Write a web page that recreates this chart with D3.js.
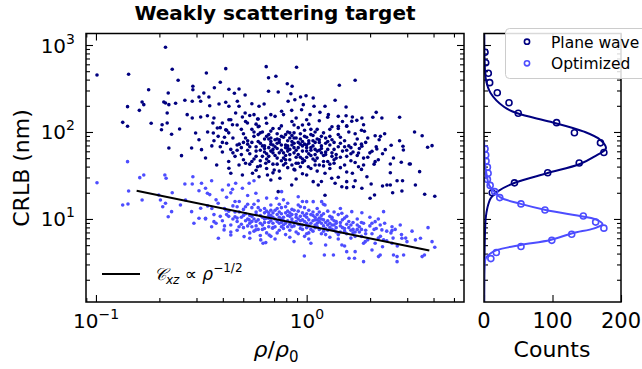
<!DOCTYPE html>
<html><head><meta charset="utf-8">
<script src="https://cdn.jsdelivr.net/npm/d3@7"></script>
<style>
body{margin:0;background:#fff}
svg{display:block}
text{font-family:"DejaVu Sans",sans-serif;fill:#000}
</style>
</head><body>
<svg id="chart" width="642" height="369"></svg>
<script>
// ---------------- DATA ----------------
// scatter points stored as [log10(rho/rho0), log10(CRLB in nm)]
const planeWaveLog = [
[-0.995,2.655],[-0.845,2.663],[-0.670,2.974],[-0.638,2.721],[-0.384,2.728],[-0.192,2.751],[-0.181,2.624],[-0.610,2.594],[-0.476,2.678],[-0.410,2.571],
[-0.540,2.525],[-0.540,2.486],[-0.438,2.509],[-0.369,2.491],[-0.343,2.445],[-0.321,2.494],[-0.292,2.425],[-0.181,2.468],[-0.750,2.486],[-0.657,2.448],
[-0.781,2.345],[-0.773,2.314],[-0.850,2.291],[-0.794,2.249],[-0.678,2.345],[-0.670,2.333],[-0.654,2.314],[-0.622,2.330],[-0.578,2.364],[-0.543,2.353],
[-0.511,2.402],[-0.503,2.353],[-0.488,2.448],[-0.464,2.402],[-0.460,2.302],[-0.416,2.322],[-0.384,2.341],[-0.369,2.295],[-0.329,2.353],[-0.321,2.295],
[-0.260,2.325],[-0.226,2.295],[-0.202,2.322],[-0.662,2.218],[-0.567,2.199],[-0.543,2.161],[-0.503,2.172],[-0.471,2.187],[-0.873,2.111],[-0.850,2.066],
[-0.738,2.100],[-0.686,2.084],[-0.689,2.026],[-0.662,2.103],[-0.603,2.034],[-0.641,1.974],[-0.654,1.816],[-0.594,1.728],[-0.546,1.816],[-0.527,1.989],
[-0.511,1.911],[-0.499,1.797],[-0.480,1.701],[-0.445,2.103],[-0.443,1.989],[-0.424,2.046],[-0.400,2.103],[-0.384,2.026],[-0.369,2.141],[-0.352,2.084],
[-0.337,2.218],[-0.305,2.172],[-0.292,2.218],[-0.281,2.103],[-0.250,2.199],[-0.233,2.149],[-0.226,2.066],[-0.194,2.161],[-0.170,2.199],
[-0.048,2.744],[0.230,2.594],[0.155,2.537],[-0.146,2.640],[-0.092,2.555],[-0.069,2.525],[-0.135,2.460],[-0.075,2.440],[-0.029,2.402],[-0.003,2.417],
[0.031,2.391],[0.135,2.364],[-0.088,2.353],[-0.056,2.371],[-0.016,2.314],[0.035,2.295],[0.087,2.295],[0.187,2.287],[-0.119,2.238],[-0.071,2.249],
[-0.024,2.256],[0.016,2.199],[0.063,2.226],[0.103,2.199],[0.150,2.180],[0.187,2.187],[0.217,2.172],[0.262,2.161],[0.314,2.169],[0.330,2.226],
[0.357,2.161],[0.441,2.169],[0.214,2.123],[0.238,2.134],[0.270,2.084],[0.150,2.066],[0.190,2.066],[0.274,2.008],[0.325,1.957],[0.370,1.980],
[0.344,1.911],[0.512,2.000],[0.548,1.957],[0.441,1.900],[0.401,1.847],[0.457,1.836],[0.459,1.793],[0.595,1.843],[0.574,1.824],[0.373,1.797],
[0.333,1.805],[0.412,1.701],[0.492,1.632],[0.449,1.652],[0.397,1.632],[0.310,1.778],[0.262,1.836],[0.246,1.759],
[0.325,1.659],[0.397,1.532],[0.360,1.379],[0.381,1.391],[0.397,1.391],[0.429,1.440],[0.455,1.440],[0.516,1.391],[0.560,1.284],[0.608,1.261],
[0.536,1.544],[0.487,1.632],[0.301,1.238],[0.322,1.276],[0.408,1.302],[0.452,1.322],[0.087,1.272],[0.167,1.371],[0.190,1.360],[0.222,1.371],
[0.262,1.353],[0.306,1.402],[0.286,1.486],[0.217,1.525],[0.246,1.601],[0.190,1.429],[0.135,1.410],[0.055,1.391],[0.031,1.429],[-0.071,1.391],
[-0.127,1.468],[-0.135,1.314],[0.000,1.506],[0.087,1.525],[0.119,1.468],[-0.056,1.563],[0.008,1.601],
[-0.427,1.621],[-0.369,1.583],[-0.360,1.525],[-0.321,1.621],[-0.305,1.506],[-0.257,1.525],[-0.233,1.601],[-0.226,1.486],[-0.194,1.640],[-0.186,1.506],[-0.170,1.448],[-0.154,1.563],
[-0.42,1.95],[-0.40,1.88],[-0.38,2.02],[-0.36,1.80],[-0.35,1.93],[-0.33,2.08],[-0.32,1.86],[-0.31,1.74],[-0.30,1.98],[-0.29,2.12],
[-0.28,1.90],[-0.27,1.83],[-0.26,2.03],[-0.25,1.69],[-0.25,1.95],[-0.24,1.78],[-0.23,2.06],[-0.22,1.87],[-0.22,1.99],[-0.21,1.72],
[-0.20,1.92],[-0.20,1.81],[-0.19,2.10],[-0.18,1.66],[-0.18,1.97],[-0.17,1.86],[-0.16,1.76],[-0.16,2.04],[-0.15,1.91],[-0.15,1.83],
[-0.14,1.70],[-0.14,1.98],[-0.13,1.88],[-0.12,1.79],[-0.12,2.07],[-0.11,1.94],[-0.11,1.62],[-0.10,1.85],[-0.10,1.73],[-0.09,2.00],
[-0.09,1.90],[-0.08,1.80],[-0.08,1.68],[-0.07,1.96],[-0.07,2.12],[-0.06,1.87],[-0.06,1.76],[-0.05,1.93],[-0.05,1.64],[-0.04,2.05],
[-0.04,1.82],[-0.03,1.71],[-0.03,1.98],[-0.02,1.89],[-0.02,1.78],[-0.01,2.02],[-0.01,1.67],[0.00,1.85],[0.00,1.94],[0.01,1.75],
[0.01,2.09],[0.02,1.82],[0.03,1.96],[0.03,1.69],[0.04,1.88],[0.05,1.78],[0.05,2.03],[0.06,1.62],[0.06,1.91],[0.07,1.84],
[0.08,1.73],[0.08,1.99],[0.09,1.87],[0.10,1.66],[0.10,1.80],[0.11,1.95],[0.12,1.76],[0.12,2.06],[0.13,1.88],[0.14,1.70],
[0.15,1.83],[0.15,1.97],[0.16,1.59],[0.17,1.78],[0.18,1.90],[0.19,1.72],[0.20,1.84],[0.20,2.00],[0.22,1.77],[0.23,1.65],
[0.24,1.92],[0.25,1.81],[0.27,1.70],[0.28,1.88],[0.30,1.76],[0.32,1.63],[-0.34,1.72],[-0.37,1.99],[-0.41,1.83],[-0.44,1.90],
[-0.27,1.63],[-0.19,1.58],[-0.13,1.55],[-0.06,1.57],[0.02,1.58],[-0.23,2.15],[-0.15,2.18],[-0.05,2.16],[0.06,2.13],[-0.30,1.68],
[-0.17,1.93],[-0.08,1.93],[-0.12,1.85],[-0.02,1.84],[0.04,1.80],[-0.19,1.75],[-0.26,1.88],[-0.10,1.97],[0.09,1.93],[-0.04,1.74],
[-0.21,2.00],[-0.14,1.63],[0.13,1.68],[0.18,1.62],[-0.33,1.85],[-0.06,2.08],[0.01,1.90],[-0.16,1.80],[0.07,1.76],[-0.24,1.83],
[-0.36,2.14],[-0.27,2.19],[-0.11,2.20],[0.00,2.14],[0.10,2.17],[0.17,2.12],[-0.44,2.16],
[-0.41,2.05],[-0.31,2.03],[-0.24,2.09],[-0.17,2.01],[-0.13,2.04],[-0.02,2.08],[0.04,2.00],[0.11,2.03],[0.19,2.07],[0.26,2.02],[-0.47,2.00],
[-0.39,1.94],[-0.29,1.93],[-0.23,1.97],[-0.18,1.92],[-0.12,1.95],[-0.06,1.99],[-0.03,1.92],[0.02,1.97],[0.07,1.95],[0.12,1.91],[0.16,1.94],[0.23,1.98],[0.29,1.93],[0.35,1.95],
[-0.45,1.84],[-0.38,1.87],[-0.31,1.82],[-0.28,1.86],[-0.23,1.89],[-0.20,1.84],[-0.14,1.87],[-0.10,1.82],[-0.07,1.89],[-0.01,1.86],[0.03,1.84],[0.06,1.88],[0.11,1.85],[0.16,1.87],[0.21,1.82],[0.26,1.86],[0.33,1.83],
[-0.40,1.77],[-0.33,1.79],[-0.27,1.75],[-0.22,1.79],[-0.18,1.72],[-0.13,1.76],[-0.09,1.78],[-0.05,1.71],[0.00,1.78],[0.04,1.74],[0.09,1.77],[0.14,1.74],[0.19,1.79],[0.24,1.73],[0.29,1.71],[0.36,1.75],
[-0.37,1.66],[-0.29,1.64],[-0.22,1.67],[-0.16,1.63],[-0.10,1.68],[-0.07,1.62],[-0.02,1.65],[0.04,1.67],[0.08,1.61],[0.13,1.64],[0.21,1.67],[0.27,1.62],[0.34,1.68],
[-0.24,1.56],[-0.16,1.53],[-0.09,1.59],[-0.02,1.52],[0.05,1.55],[0.11,1.58],[0.19,1.54],[0.26,1.57],
[-0.05,1.46],[0.07,1.43],[0.15,1.48],[0.23,1.44],
[-0.17,1.89],[-0.09,1.84],[-0.04,1.88],[0.02,1.79],[-0.11,1.76],[-0.19,1.95],[0.05,1.92],[-0.14,1.81],[-0.06,1.82],[0.00,1.71],
[-0.21,1.84],[-0.19,1.69],[-0.17,1.78],[-0.15,1.73],[-0.13,1.91],[-0.11,1.70],[-0.09,1.81],[-0.08,1.74],[-0.06,1.93],[-0.05,1.79],
[-0.03,1.86],[-0.02,1.69],[0.00,1.82],[0.02,1.73],[0.03,1.90],[0.05,1.70],[0.07,1.81],[0.08,1.66],[0.10,1.89],[0.12,1.72],
[-0.20,1.77],[-0.16,1.85],[-0.12,1.67],[-0.07,1.85],[-0.04,1.64],[0.01,1.87],[0.04,1.62],[0.09,1.74],[0.13,1.80],[-0.24,1.72],
[-0.28,1.79],[-0.26,1.66],[-0.22,1.61],[0.16,1.71],[0.18,1.83],[0.21,1.75],[-0.14,1.92],[-0.01,1.95],[-0.18,1.82],[0.06,1.79],
[-0.10,1.64],[-0.03,1.60],[0.11,1.63],[-0.30,1.88],[-0.35,1.76],[0.23,1.86],[-0.08,1.99],[0.02,2.03],[-0.25,2.00],[0.15,2.04]
];
const optimizedLog = [
[-0.995,1.417],[-0.850,1.659],[-0.792,1.475],[-0.773,1.506],[-0.845,1.322],[-0.873,1.161],[-0.848,1.172],[-0.781,1.218],[-0.673,1.506],[-0.667,1.468],
[-0.702,1.276],[-0.694,1.218],[-0.670,1.180],[-0.683,1.141],[-0.657,1.026],[-0.641,1.084],[-0.638,1.302],[-0.578,1.402],[-0.543,1.402],[-0.540,1.486],
[-0.511,1.325],[-0.499,1.410],[-0.480,1.353],[-0.471,1.295],[-0.451,1.440],[-0.400,1.333],[-0.371,1.391],[-0.352,1.341],[-0.337,1.410],[-0.305,1.353],
[-0.273,1.410],[-0.241,1.295],[-0.250,1.440],[-0.599,1.161],[-0.575,1.218],[-0.546,1.084],[-0.535,0.951],[-0.511,1.008],[-0.503,1.123],[-0.480,1.008],
[-0.451,0.911],[-0.440,0.969],[-0.419,0.778],[-0.392,0.874],[-0.384,1.103],[-0.360,0.816],[-0.340,1.026],[-0.321,0.911],[-0.297,0.797],[-0.273,0.989],
[-0.241,0.874],[-0.218,0.759],[-0.194,0.728],[-0.178,0.816],[-0.162,0.893],
[-0.119,1.314],[-0.143,1.238],[-0.040,1.256],[0.000,1.199],[0.031,1.199],[0.071,1.199],[0.087,1.161],[0.167,1.066],[0.214,1.084],[0.262,1.072],
[0.365,1.084],[0.310,0.951],[0.325,0.969],[0.349,0.931],[0.357,0.874],[0.405,0.911],[0.405,0.866],[0.444,0.931],[0.452,0.778],[0.476,0.739],
[0.516,0.759],[0.540,0.778],[0.576,0.900],[0.595,0.739],[0.608,0.675],[0.548,0.567],[0.559,0.586],[0.460,0.586],[0.429,0.567],[0.429,0.509],
[0.412,0.586],[0.349,0.586],[0.341,0.567],[0.310,0.644],[0.270,0.509],[0.227,0.548],[0.201,0.548],[0.190,0.624],[0.230,0.624],[0.127,0.586],
[0.084,0.586],[-0.011,0.575],[0.167,0.701],[0.278,0.739],[0.325,0.721],[0.365,0.759],[0.405,0.721],[-0.207,0.721],[-0.270,0.778],
[0.35,0.80],[0.37,0.95],[0.40,0.84],[0.38,0.75],[0.42,0.88],[0.34,1.00],[0.45,0.82],[0.30,1.02],[0.27,0.72],[0.36,0.68],
[-0.44,1.05],[-0.42,1.18],[-0.40,0.98],[-0.39,1.12],[-0.38,1.25],[-0.37,1.03],[-0.36,0.93],[-0.35,1.15],[-0.34,1.08],[-0.33,0.97],
[-0.32,1.20],[-0.31,1.02],[-0.30,1.11],[-0.30,0.90],[-0.29,1.06],[-0.28,1.17],[-0.27,0.95],[-0.26,1.03],[-0.26,1.13],[-0.25,0.86],
[-0.24,1.08],[-0.23,0.99],[-0.23,1.21],[-0.22,1.04],[-0.21,0.93],[-0.20,1.12],[-0.20,1.00],[-0.19,0.84],[-0.18,1.07],[-0.18,0.96],
[-0.17,1.16],[-0.16,1.02],[-0.16,0.90],[-0.15,1.10],[-0.14,0.97],[-0.14,1.05],[-0.13,0.87],[-0.12,1.13],[-0.12,1.00],[-0.11,0.93],
[-0.10,1.07],[-0.10,0.82],[-0.09,1.18],[-0.09,0.98],[-0.08,1.03],[-0.07,0.91],[-0.07,1.11],[-0.06,0.96],[-0.05,1.05],[-0.05,0.85],
[-0.04,1.00],[-0.03,1.14],[-0.03,0.93],[-0.02,1.07],[-0.01,0.97],[-0.01,0.80],[0.00,1.02],[0.00,0.90],[0.01,1.10],[0.02,0.95],
[0.03,1.04],[0.03,0.86],[0.04,0.99],[0.05,1.12],[0.05,0.91],[0.06,1.01],[0.07,0.83],[0.07,0.95],[0.08,1.06],[0.09,0.89],
[0.10,0.98],[0.10,1.09],[0.11,0.79],[0.12,0.93],[0.12,1.02],[0.13,0.87],[0.14,0.97],[0.15,1.05],[0.15,0.82],[0.16,0.92],
[0.17,0.99],[0.18,0.86],[0.19,1.03],[0.20,0.90],[0.21,0.78],[0.22,0.96],[0.23,0.85],[0.24,1.00],[0.25,0.91],[0.26,0.80],
[0.27,0.95],[0.28,0.87],[0.30,0.92],[0.31,0.83],[0.33,0.89],[-0.43,0.95],[-0.36,1.30],[-0.28,1.27],[-0.19,1.24],[-0.11,1.22],
[-0.02,1.20],[0.08,1.17],[0.16,1.12],[-0.33,0.87],[-0.22,0.81],[-0.15,0.77],[-0.06,0.74],[0.02,0.72],[0.09,0.70],[0.18,0.69],
[-0.25,1.00],[-0.17,1.04],[-0.08,0.94],[0.04,0.93],[-0.13,0.95],[-0.20,1.07],[0.11,0.95],[-0.04,1.09],[0.13,1.08],[-0.29,0.98],
[0.06,0.88],[-0.11,1.02],[0.20,0.97],[-0.02,0.88],[0.14,0.90],[-0.37,1.09],[-0.24,0.92],[0.01,0.99],[-0.07,1.00],[0.22,0.88],
[-0.45,1.12],[-0.41,1.03],[-0.39,0.92],[-0.35,1.00],[-0.34,1.20],[-0.31,0.94],[-0.29,1.14],[-0.27,1.04],[-0.25,1.17],[-0.24,0.97],
[-0.22,1.10],[-0.21,0.88],[-0.19,1.01],[-0.17,1.10],[-0.16,0.95],[-0.14,0.84],[-0.13,1.08],[-0.11,0.98],[-0.10,1.14],[-0.08,0.87],
[-0.07,1.05],[-0.06,0.92],[-0.04,0.83],[-0.03,1.03],[-0.01,1.13],[0.00,0.95],[0.01,0.84],[0.02,1.05],[0.04,0.90],[0.05,0.99],
[0.06,1.08],[0.08,0.92],[0.09,0.82],[0.11,1.03],[0.12,0.88],[0.14,0.95],[0.15,0.77],[0.17,0.90],[0.18,1.01],[0.19,0.83],
[0.21,0.93],[0.23,0.80],[0.24,0.88],[0.26,0.96],[0.28,0.83],[0.29,0.76],[0.32,0.88],[0.34,0.78],[0.38,0.86],[0.41,0.78],
[-0.43,1.22],[-0.32,1.08],[-0.26,0.91],[-0.18,0.91],[-0.12,0.91],[-0.05,0.97],[0.03,0.98],[0.10,0.87],[0.16,0.85],[0.22,0.84],
[-0.38,1.05],[-0.28,1.00],[-0.20,0.96],[-0.15,1.00],[-0.09,1.04],[-0.03,0.98],[0.07,1.00],[0.13,0.98],[0.19,0.94],[0.25,0.85],
[-0.33,1.14],[-0.23,1.13],[-0.13,1.17],[-0.04,1.16],[0.05,1.05],[-0.36,0.85],[-0.27,0.84],[-0.17,0.80],[-0.08,0.79],[0.01,0.77],
[-0.48,1.00],[-0.47,1.15],[-0.46,1.28],[0.43,0.69],[0.47,0.78],[0.50,0.86],[-0.02,0.93],[-0.09,0.91],[-0.18,1.01],[0.09,0.96],
[-0.24,1.05],[-0.22,0.95],[-0.19,1.09],[-0.17,0.98],[-0.15,0.91],[-0.13,1.02],[-0.11,0.89],[-0.09,1.09],[-0.07,0.97],[-0.05,1.02],
[-0.03,0.89],[-0.01,1.04],[0.01,0.92],[0.03,1.08],[0.05,0.95],[0.07,1.04],[0.08,0.86],[0.10,0.93],[0.12,1.00],[0.14,0.85],
[-0.26,0.97],[-0.21,1.02],[-0.16,1.07],[-0.12,0.96],[-0.08,1.07],[-0.04,0.94],[0.00,1.06],[0.02,0.88],[0.06,0.97],[0.11,0.90],
[-0.30,1.04],[-0.28,0.92],[-0.20,0.89],[-0.14,1.12],[-0.06,1.10],[0.04,1.02],[0.16,0.96],[0.18,0.89],[0.21,0.87],[0.24,0.93],
[-0.10,0.95],[-0.18,1.04],[0.08,0.99],[-0.02,0.99],[0.13,0.93],[-0.33,1.01],[0.26,0.88],[-0.12,1.06],[0.00,0.83],[-0.23,0.88]
];
// power-law guide line C ~ rho^-1/2 (endpoints)
const guideRho = [0.156, 3.82];
const guideCrlb = [21.1, 4.33];
// histogram bins (counts vs CRLB)
const planeHistCounts = [1.5, 2.5, 6.3, 8.3, 19.4, 36.5, 50, 106, 132, 170, 175, 139, 93, 44.5, 12];
const planeHistCrlb   = [824, 626, 473, 369, 283, 217, 164, 128, 98, 75, 58, 44, 34, 26, 20];
const optHistCounts = [1.5, 2.5, 3, 5, 6, 5, 9, 15.6, 23, 54, 89, 145, 163, 175, 128, 99, 54, 18, 10];
const optHistCrlb   = [64, 54.4, 46.3, 39.4, 33.5, 28.5, 24.3, 20.6, 17.6, 14.9, 12.7, 10.8, 9.2, 7.84, 6.67, 5.68, 4.83, 4.11, 3.5];
// fitted curves
const planeFitCounts = [0.3, 0.4, 0.9, 2.9, 9.8, 29, 48.6, 97, 146, 170, 178, 161, 140, 92, 45, 19.4, 9.8, 4.8, 2.5, 1.5, 0.7, 0.3];
const planeFitCrlb   = [1356, 1268, 673, 396, 279, 195, 164, 131, 101, 81, 65, 52, 42.9, 33.5, 26.1, 20.6, 17.3, 13.3, 10.2, 7.1, 3.4, 1.11];
const optFitCounts = [0.15, 1.5, 3.9, 7.3, 14.6, 24.4, 53.6, 90, 146, 165, 173, 161, 129, 97, 53.6, 19.4, 9.8, 2.5, 0.4, 0];
const optFitCrlb   = [81, 41.8, 32, 24.6, 20.6, 17.6, 14.9, 12.7, 10.6, 9.75, 8.7, 7.8, 6.85, 5.74, 5.03, 4.41, 4.04, 3.53, 2.73, 1.11];

const seriesNames = ["Plane wave", "Optimized"];
const DARK = "#000080", LIGHT = "#4d4dff";

// ---------------- LAYOUT ----------------
const svg = d3.select("#chart");
const M = {l: 86, r: 464, t: 33.5, b: 302};
const H = {l: 484, r: 621};
const x = d3.scaleLog().domain([0.0897, 5.58]).range([M.l, M.r]);
const y = d3.scaleLog().domain([1.11, 1356]).range([M.b, M.t]);
const xh = d3.scaleLinear().domain([0, 200]).range([H.l, H.r]);

const defs = svg.append("defs");
defs.append("clipPath").attr("id", "clipMain").append("rect")
  .attr("x", M.l).attr("y", M.t).attr("width", M.r - M.l).attr("height", M.b - M.t);
defs.append("clipPath").attr("id", "clipHist").append("rect")
  .attr("x", H.l).attr("y", M.t).attr("width", H.r - H.l).attr("height", M.b - M.t);

// ticks
const yMajor = [10, 100, 1000];
const yMinor = [];
[1, 10, 100, 1000].forEach(d => { for (let k = 2; k <= 9; k++) { const v = d * k; if (v > 1.11 && v < 1356) yMinor.push(v); } });
const xMajor = [0.1, 1];
const xMinor = [];
[0.01, 0.1, 1].forEach(d => { for (let k = 2; k <= 9; k++) { const v = d * k; if (v > 0.0897 && v < 5.58) xMinor.push(v); } });

function ticks(axisFn, scale, vals, len, tx, ty) {
  const g = svg.append("g").attr("transform", `translate(${tx},${ty})`)
    .call(axisFn(scale).tickValues(vals).tickSize(-len).tickFormat(""));
  g.select(".domain").remove();
  g.selectAll(".tick line").attr("stroke", "#000").attr("stroke-width", 1.1);
}
// main axes ticks
ticks(d3.axisLeft, y, yMajor, 7, M.l, 0);
ticks(d3.axisLeft, y, yMinor, 4, M.l, 0);
ticks(d3.axisRight, y, yMajor, 7, M.r, 0);
ticks(d3.axisRight, y, yMinor, 4, M.r, 0);
ticks(d3.axisBottom, x, xMajor, 7, 0, M.b);
ticks(d3.axisBottom, x, xMinor, 4, 0, M.b);
ticks(d3.axisTop, x, xMajor, 7, 0, M.t);
ticks(d3.axisTop, x, xMinor, 4, 0, M.t);
// histogram ticks
ticks(d3.axisLeft, y, yMajor, 7, H.l, 0);
ticks(d3.axisLeft, y, yMinor, 4, H.l, 0);
ticks(d3.axisRight, y, yMajor, 7, H.r, 0);
ticks(d3.axisRight, y, yMinor, 4, H.r, 0);
ticks(d3.axisBottom, xh, [0, 100, 200], 7, 0, M.b);
ticks(d3.axisTop, xh, [0, 100, 200], 7, 0, M.t);

// ---------------- SCATTER ----------------
const toPt = d => ({rho: Math.pow(10, d[0]), crlb: Math.pow(10, d[1])});
const gMain = svg.append("g").attr("clip-path", "url(#clipMain)");
gMain.append("g").selectAll("circle").data(planeWaveLog.map(toPt)).join("circle")
  .attr("cx", d => x(d.rho)).attr("cy", d => y(d.crlb)).attr("r", 1.8).attr("fill", DARK);
gMain.append("g").selectAll("circle").data(optimizedLog.map(toPt)).join("circle")
  .attr("cx", d => x(d.rho)).attr("cy", d => y(d.crlb)).attr("r", 1.8).attr("fill", LIGHT);
const guide = guideRho.map((r, i) => [r, guideCrlb[i]]);
gMain.append("path").datum(guide)
  .attr("d", d3.line().x(d => x(d[0])).y(d => y(d[1])))
  .attr("stroke", "#000").attr("stroke-width", 2).attr("fill", "none");

// ---------------- HISTOGRAM ----------------
const gHist = svg.append("g").attr("clip-path", "url(#clipHist)");
const fitLine = d3.line().x(d => xh(d[0])).y(d => y(d[1])).curve(d3.curveCatmullRom.alpha(0.5));
function histSeries(counts, crlb, fc, fv, color) {
  gHist.append("path").datum(fc.map((c, i) => [c, fv[i]]))
    .attr("d", fitLine).attr("stroke", color).attr("stroke-width", 2).attr("fill", "none");
  gHist.append("g").selectAll("circle").data(counts.map((c, i) => [c, crlb[i]])).join("circle")
    .attr("cx", d => xh(d[0])).attr("cy", d => y(d[1])).attr("r", 3)
    .attr("fill", "none").attr("stroke", color).attr("stroke-width", 1.6);
}
histSeries(planeHistCounts, planeHistCrlb, planeFitCounts, planeFitCrlb, DARK);
histSeries(optHistCounts, optHistCrlb, optFitCounts, optFitCrlb, LIGHT);

// ---------------- SPINES ----------------
svg.append("rect").attr("x", M.l).attr("y", M.t).attr("width", M.r - M.l).attr("height", M.b - M.t)
  .attr("fill", "none").attr("stroke", "#000").attr("stroke-width", 1.5);
svg.append("rect").attr("x", H.l).attr("y", M.t).attr("width", H.r - H.l).attr("height", M.b - M.t)
  .attr("fill", "none").attr("stroke", "#000").attr("stroke-width", 1.5);

// ---------------- LABELS ----------------
function powLabel(px, py, exp, anchor) {
  const t = svg.append("text").attr("x", px).attr("y", py).attr("text-anchor", anchor).attr("font-size", 20);
  t.append("tspan").text("10");
  t.append("tspan").attr("dy", -9).attr("font-size", 14).text(exp);
}
yMajor.forEach((v, i) => powLabel(75, y(v) + 7.5, String(i + 1), "end"));
powLabel(96, 328, "\u22121", "middle");
powLabel(307, 328, "0", "middle");
[0, 100, 200].forEach(v => svg.append("text").attr("x", xh(v)).attr("y", 328)
  .attr("text-anchor", "middle").attr("font-size", 21).text(v));

svg.append("text").attr("x", 275).attr("y", 20).attr("text-anchor", "middle")
  .attr("font-size", 20).attr("font-weight", "bold").text("Weakly scattering target");
svg.append("text").attr("transform", "translate(29,168) rotate(-90)").attr("text-anchor", "middle")
  .attr("font-size", 22).text("CRLB (nm)");
const xl = svg.append("text").attr("x", 276).attr("y", 357).attr("text-anchor", "middle").attr("font-size", 22);
xl.append("tspan").attr("font-style", "italic").text("\u03C1");
xl.append("tspan").text("/");
xl.append("tspan").attr("font-style", "italic").text("\u03C1");
xl.append("tspan").attr("font-size", 15).attr("dy", 5).text("0");
svg.append("text").attr("x", 552).attr("y", 357).attr("text-anchor", "middle").attr("font-size", 22).text("Counts");

// main legend (power law)
svg.append("line").attr("x1", 102).attr("x2", 140).attr("y1", 274).attr("y2", 274)
  .attr("stroke", "#000").attr("stroke-width", 2);
const lt = svg.append("text").attr("x", 154).attr("y", 280).attr("font-size", 17);
lt.append("tspan").attr("font-style", "italic").text("\uD835\uDC9E");
lt.append("tspan").attr("font-style", "italic").attr("font-size", 12).attr("dy", 4).text("xz");
lt.append("tspan").attr("dy", -4).text(" \u221D ");
lt.append("tspan").attr("font-style", "italic").text("\u03C1");
lt.append("tspan").attr("font-size", 12).attr("dy", -8).text("\u22121/2");

// histogram legend
const lg = svg.append("g");
lg.append("rect").attr("x", 505.5).attr("y", 28.5).attr("width", 150).attr("height", 50).attr("rx", 4)
  .attr("fill", "#fff").attr("fill-opacity", 0.85).attr("stroke", "#cccccc").attr("stroke-width", 1);
[DARK, LIGHT].forEach((c, i) => {
  lg.append("circle").attr("cx", 527).attr("cy", 41.7 + i * 21.6).attr("r", 2.6)
    .attr("fill", "none").attr("stroke", c).attr("stroke-width", 1.6);
  lg.append("text").attr("x", 551).attr("y", 47.5 + i * 21.6).attr("font-size", 15.5).text(seriesNames[i]);
});
</script>
</body></html>
